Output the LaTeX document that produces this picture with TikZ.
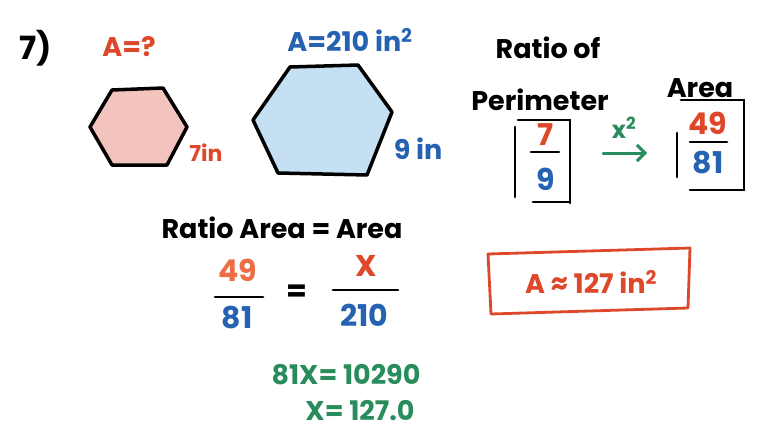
\documentclass[tikz,border=0pt]{standalone}
\usepackage{fontspec}
\usetikzlibrary{arrows.meta}
\setmainfont{Poppins}
\definecolor{hred}{RGB}{222,72,42}
\definecolor{horange}{RGB}{236,110,70}
\definecolor{hblue}{RGB}{38,98,178}
\definecolor{hgreen}{RGB}{40,140,92}
\definecolor{pinkfill}{RGB}{243,196,190}
\definecolor{bluefill}{RGB}{196,224,242}
\begin{document}
\begin{tikzpicture}[x=1pt,y=-1pt,
  txt/.style={inner sep=0pt,font=\fontsize{27}{27}\selectfont\bfseries},
  num/.style={inner sep=0pt,font=\fontsize{30}{30}\selectfont\bfseries},
  big/.style={inner sep=0pt,font=\fontsize{32}{32}\selectfont\bfseries},
  hexline/.style={line width=3.5pt,line join=round,line cap=round},
  pen/.style={line width=2.8pt,line cap=round},
  ]
\useasboundingbox[fill=white] (0,0) rectangle (759,441);
% hexagons
\draw[hexline,fill=pinkfill] (112,90) -- (163,88) -- (187,127) -- (167,165) -- (112,165) -- (90,127) -- cycle;
\draw[hexline,fill=bluefill] (290,67) -- (358,65) -- (392,112) -- (367,175) -- (278,173) -- (253,120) -- cycle;
% top labels
\node[big] (seven) at (36,48) {7)};
\node[txt,text=hred] (aq) at (129,47) {A=?};
\node[txt,text=hblue] (abig) at (350,40) {A=210 in\textsuperscript{2}};
\node[txt,text=hred,font=\fontsize{22}{22}\selectfont\bfseries] (s7) at (206,153) {7in};
\node[txt,text=hblue] (s9) at (418,149) {9 in};
% ratio of perimeter / area
\node[txt] (ratioof) at (548,48) {Ratio of};
\node[txt] (perim) at (540,100) {Perimeter};
\node[txt] (area) at (700,88) {Area};
% left box
\draw[pen] (515,127) -- (515,197);
\draw[pen] (518,120) -- (570,120) -- (570,203);
\draw[pen] (533,202) -- (570,202);
\node[num,text=hred] (n7) at (546,135) {7};
\draw[pen] (531,152) -- (559,152);
\node[num,text=hblue] (d9) at (546,179) {9};
% arrow
\node[txt,text=hgreen,font=\fontsize{24}{24}\selectfont\bfseries] (sq) at (624,128) {x\textsuperscript{2}};
\coordinate (arrs) at (603,153);
\coordinate (arre) at (647,153);
\draw[hgreen,line width=3pt,line cap=round,-{Straight Barb[length=8pt,width=16pt]}] (arrs) -- (arre);
% right box
\draw[pen] (677,133) -- (677,177);
\draw[pen] (681,100) -- (744,100) -- (744,190);
\draw[pen] (690,190) -- (744,190);
\node[num,text=hred] (n49) at (708,123) {49};
\draw[pen] (690,142) -- (727,142);
\node[num,text=hblue] (d81) at (708,163) {81};
% ratio area = area
\node[txt] (rae) at (282,228) {Ratio Area = Area};
\node[num,text=horange] (l49) at (238,270) {49};
\draw[pen] (215,297) -- (263,297);
\node[num,text=hblue] (l81) at (237,318) {81};
\node[num] (eq) at (297,293) {=};
\node[num,text=hred] (lx) at (366,266) {X};
\draw[pen] (333,290) -- (398,290);
\node[num,text=hblue] (l210) at (364,315) {210};
\node[txt,text=hgreen] (e1) at (346,375) {81X= 10290};
\node[txt,text=hgreen] (e2) at (360,411) {X= 127.0};
% answer box
\node[txt,text=hred] (ans) at (591,282) {A ≈ 127 in\textsuperscript{2}};
\draw[hred,line width=2.8pt,line join=round] (488,254) -- (690,248) -- (688,308) -- (491,314) -- cycle;
\end{tikzpicture}
\end{document}
